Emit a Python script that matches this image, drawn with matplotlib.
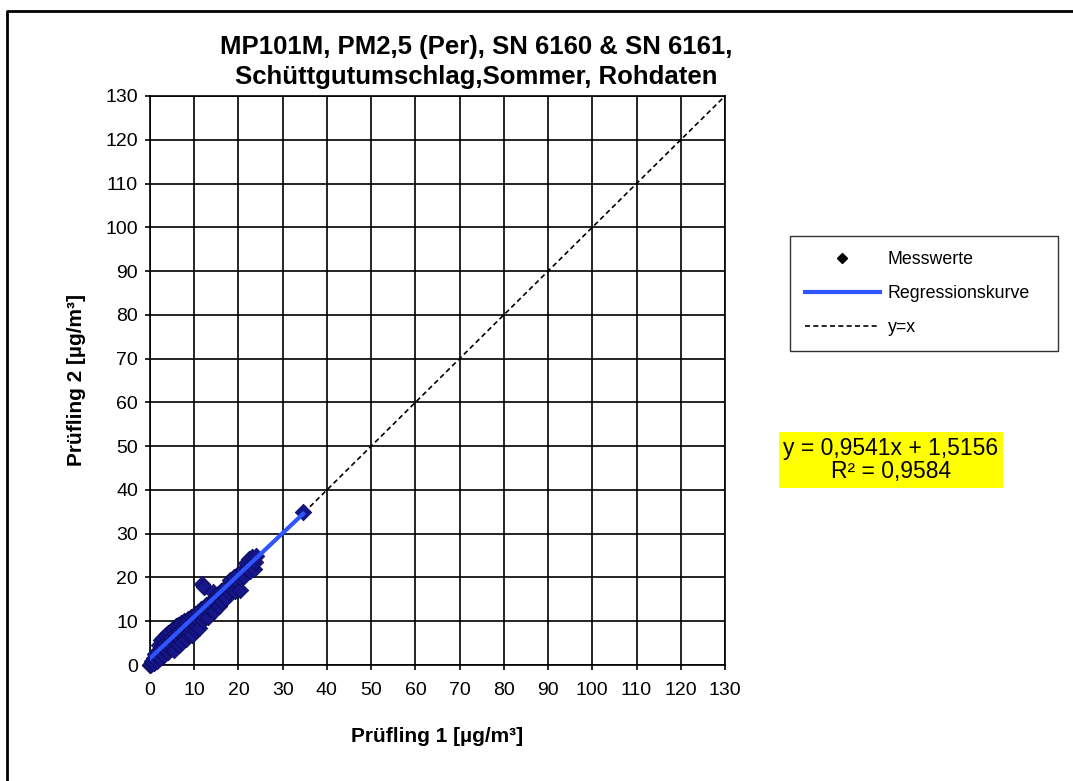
"""Scatter of two PM2.5 monitors (SN 6160 vs SN 6161) with regression and y=x."""

import numpy as np
import matplotlib
matplotlib.use("Agg")
import matplotlib.pyplot as plt
from matplotlib.lines import Line2D

plt.rcParams["font.family"] = ["Liberation Sans", "DejaVu Sans"]

pm_1 = [0.0, 0.1, 0.3, 0.5, 0.8, 1.0, 1.2, 1.5, 1.7, 1.9, 2.0, 2.2, 2.4, 2.5, 2.7,
        2.9, 3.0, 3.2, 3.3, 3.5, 3.6, 3.8, 4.0, 4.1, 4.3, 4.5, 4.6, 4.8, 5.0,
        5.1, 5.3, 5.5, 5.6, 5.8, 6.0, 6.1, 6.3, 6.5, 6.6, 6.8, 7.0, 7.1, 7.3,
        7.5, 7.6, 7.8, 8.0, 8.1, 8.3, 8.5, 8.6, 8.8, 9.0, 9.1, 9.3, 9.5, 9.6,
        9.8, 10.0, 10.1, 10.3, 10.5, 10.6, 10.8, 11.0, 11.1, 11.3, 11.5, 11.8,
        12.0, 12.2, 12.3, 12.5, 12.7, 13.0, 13.2, 13.4, 13.6, 14.0, 14.2, 14.5,
        14.8, 15.0, 15.3, 15.5, 15.8, 16.0, 16.3, 16.6, 17.0, 17.2, 17.5, 17.8,
        18.0, 18.4, 18.7, 19.0, 19.3, 19.6, 20.0, 20.3, 20.6, 21.0, 21.3, 21.6,
        22.0, 22.3, 22.7, 23.0, 23.4, 23.7, 24.0, 34.6]
pm_2 = [0.0, 0.1, 0.2, 0.8, 0.4, 1.5, 2.6, 1.0, 3.2, 2.1, 4.5, 1.6, 3.6, 5.6, 2.8,
        4.1, 6.2, 2.3, 5.0, 3.4, 6.8, 4.6, 7.2, 2.9, 5.5, 3.8, 7.6, 6.1, 4.4,
        8.3, 5.7, 3.4, 7.0, 8.9, 5.1, 6.6, 9.2, 4.5, 7.8, 5.9, 9.6, 7.1, 5.3,
        8.5, 10.1, 6.4, 8.0, 5.9, 9.8, 7.3, 10.6, 6.8, 9.0, 7.6, 11.0, 8.2, 6.9,
        10.2, 9.3, 11.6, 8.0, 10.5, 9.0, 12.1, 10.0, 8.5, 11.4, 12.8, 18.5,
        10.3, 17.8, 12.4, 11.0, 13.6, 12.0, 10.9, 14.2, 12.8, 13.5, 16.6, 12.3,
        15.0, 14.2, 16.2, 13.4, 15.7, 17.0, 14.6, 16.3, 17.5, 15.3, 18.0, 16.6,
        19.5, 17.4, 18.8, 20.2, 17.0, 19.3, 20.8, 17.2, 19.9, 21.8, 20.3, 23.2,
        22.0, 24.2, 21.5, 24.6, 22.0, 23.5, 25.0, 35.0]

slope = 0.9541
intercept = 1.5156
r_squared = 0.9584

axis_ticks = list(range(0, 131, 10))

fig = plt.figure(figsize=(10.73, 7.81), dpi=100)
ax = fig.add_axes([150 / 1073, 116 / 781, 575 / 1073, 569 / 781])

x = np.array(pm_1)
y = np.array(pm_2)
ax.scatter(x, y, marker="D", s=70, color="#16168a", edgecolors="#0a0a5a",
           linewidths=0.6, zorder=3, clip_on=False)

x_fit = np.array([x.min(), x.max()])
ax.plot(x_fit, slope * x_fit + intercept, color="#2f55ff", lw=3, zorder=4)
ax.plot([0, 130], [0, 130], color="black", lw=1.2, ls=(0, (3, 2)), zorder=2)

ax.set_xlim(0, 130)
ax.set_ylim(0, 130)
ax.set_xticks(axis_ticks)
ax.set_yticks(axis_ticks)
ax.tick_params(direction="out", length=3.6, width=1.2, labelsize=14)
ax.tick_params(axis="x", pad=8.5)
ax.tick_params(axis="y", pad=5)
ax.grid(True, color="black", lw=1.2)
ax.set_axisbelow(True)
for sp in ax.spines.values():
    sp.set_linewidth(1.2)

ax.set_xlabel("Prüfling 1 [µg/m³]", fontsize=15, fontweight="bold", labelpad=20)
ax.set_ylabel("Prüfling 2 [µg/m³]", fontsize=15, fontweight="bold", labelpad=14)

fig.text(476 / 1073, 1 - 62 / 781,
         "MP101M, PM2,5 (Per), SN 6160 & SN 6161,\nSchüttgutumschlag,Sommer, Rohdaten",
         ha="center", va="center", fontsize=18.5, fontweight="bold", linespacing=1.3)

handles = [
    Line2D([], [], ls="none", marker="D", markersize=5, color="black"),
    Line2D([], [], color="#2f55ff", lw=3),
    Line2D([], [], color="black", lw=1.2, ls=(0, (3, 2))),
]
leg = fig.legend(handles, ["Messwerte", "Regressionskurve", "y=x"],
                 loc="upper left", bbox_to_anchor=(790 / 1073, 1 - 352 / 781, 268 / 1073, 116 / 781),
                 mode="expand", fontsize=12.8, frameon=True, fancybox=False,
                 edgecolor="black", handlelength=4.2, handletextpad=0.45,
                 labelspacing=0.95, borderpad=0.85, borderaxespad=0)
leg.get_frame().set_linewidth(1.0)

fig.text(891 / 1073, 1 - 460 / 781,
         f"y = {slope:.4f}x + {intercept:.4f}\nR² = {r_squared:.4f}".replace(".", ","),
         ha="center", va="center", fontsize=16.5, linespacing=1.05,
         bbox=dict(facecolor="#ffff00", edgecolor="none", pad=3))

# outer chart frame (left and top edges visible)
fig.add_artist(Line2D([7 / 1073, 7 / 1073, 1.0], [0.0, 1 - 11 / 781, 1 - 11 / 781],
                      color="black", lw=2, transform=fig.transFigure))

fig.savefig("out.png", dpi=100)
